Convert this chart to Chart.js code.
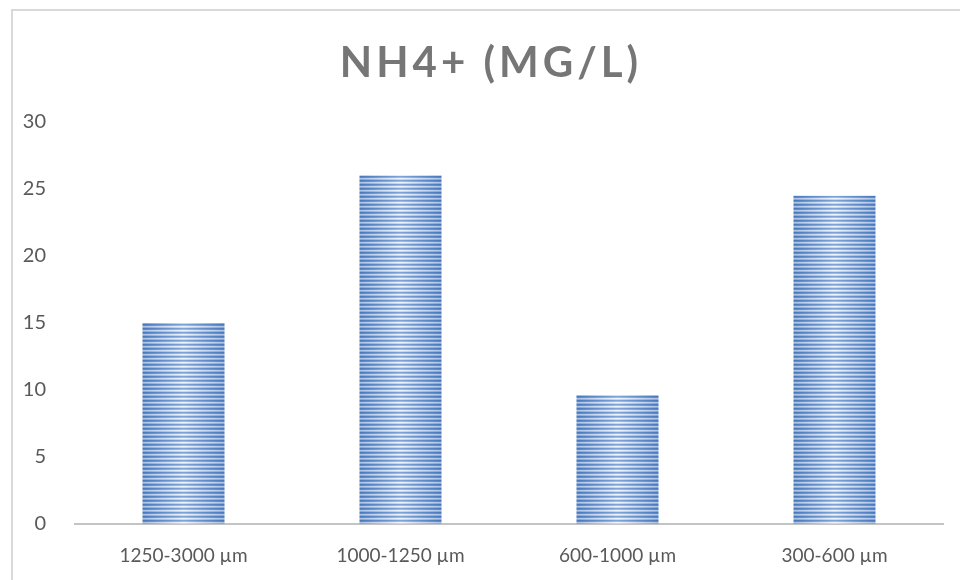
<!DOCTYPE html>
<html>
<head>
<meta charset="utf-8">
<script src="https://cdn.jsdelivr.net/npm/chart.js@4/dist/chart.umd.min.js"></script>
<style>
    html, body { margin: 0; padding: 0; background: #fff; }
    #wrap { position: relative; width: 960px; height: 580px; overflow: hidden; }
    #frame {
        position: absolute; left: 11px; top: 9px; width: 1000px; height: 600px;
        border-left: 2px solid #d9d9d9; border-top: 2px solid #d9d9d9;
        pointer-events: none;
    }
    canvas { position: absolute; left: 0; top: 0; }
</style>
</head>
<body>
<div id="wrap">
    <canvas id="chart" width="960" height="580"></canvas>
    <div id="frame"></div>
</div>
<script>
const titulo = 'NH4+ (MG/L)';
const categorias = ['1250-3000 µm', '1000-1250 µm', '600-1000 µm', '300-600 µm'];
const valores = [15, 26, 9.6, 24.5];
const yMin = 0;
const yMax = 30;
const yPasso = 5;

const BAR_FRAC = 0.378;

// listras horizontais com degradê (mais claro no meio da barra)
function padraoBarra(ctx) {
    const chart = ctx.chart;
    const x = chart.scales.x;
    if (!x || ctx.dataIndex === undefined) return '#6a93cc';
    const catW = (x.right - x.left) / categorias.length;
    const centro = x.getPixelForValue(ctx.dataIndex);
    if (!Number.isFinite(catW) || !Number.isFinite(centro) || catW <= 0) return '#6a93cc';
    const w = Math.max(2, Math.round(catW * BAR_FRAC));
    const esquerda = centro - w / 2;

    const c = document.createElement('canvas');
    c.width = w;
    c.height = 4;
    const g = c.getContext('2d');
    const linhas = [
        ['#4778bd', '#7fa4d8'],
        ['#5886c6', '#a3bee5'],
        ['#abc2e4', '#f0f5fc'],
        ['#86a7d7', '#cddbf1']
    ];
    linhas.forEach((cores, i) => {
        const grad = g.createLinearGradient(0, 0, w, 0);
        grad.addColorStop(0, cores[0]);
        grad.addColorStop(0.5, cores[1]);
        grad.addColorStop(1, cores[0]);
        g.fillStyle = grad;
        g.fillRect(0, i, w, 1);
    });
    const p = chart.ctx.createPattern(c, 'repeat');
    p.setTransform(new DOMMatrix().translate(esquerda, 0));
    return p;
}

const tituloPlugin = {
    id: 'tituloPlugin',
    afterDraw(chart) {
        const ctx = chart.ctx;
        ctx.save();
        ctx.font = 'bold 42px Lato';
        ctx.letterSpacing = '4px';
        ctx.fillStyle = '#767676';
        ctx.textAlign = 'center';
        ctx.textBaseline = 'middle';
        ctx.fillText(titulo, 491, 63);
        ctx.restore();
    }
};

const ctx = document.getElementById('chart');

new Chart(ctx, {
    type: 'bar',
    data: {
        labels: categorias,
        datasets: [{
            data: valores,
            backgroundColor: padraoBarra,
            borderWidth: 0,
            barPercentage: BAR_FRAC,
            categoryPercentage: 1
        }]
    },
    options: {
        responsive: false,
        animation: false,
        layout: { padding: { top: 122, right: 17, left: 0, bottom: 0 } },
        plugins: {
            legend: { display: false },
            title: { display: false },
            tooltip: { enabled: false }
        },
        scales: {
            x: {
                grid: { display: false },
                border: { display: true, color: '#c4c4c4', width: 2 },
                ticks: {
                    color: '#595959',
                    font: { family: 'Lato', size: 19 },
                    padding: 12
                },
                afterFit(scale) { scale.height = 56; }
            },
            y: {
                min: yMin,
                max: yMax,
                grid: { display: false },
                border: { display: false },
                ticks: {
                    stepSize: yPasso,
                    color: '#595959',
                    font: { family: 'Lato', size: 20 },
                    padding: 21
                },
                afterFit(scale) { scale.width = 75; }
            }
        }
    },
    plugins: [tituloPlugin]
});
</script>
</body>
</html>
